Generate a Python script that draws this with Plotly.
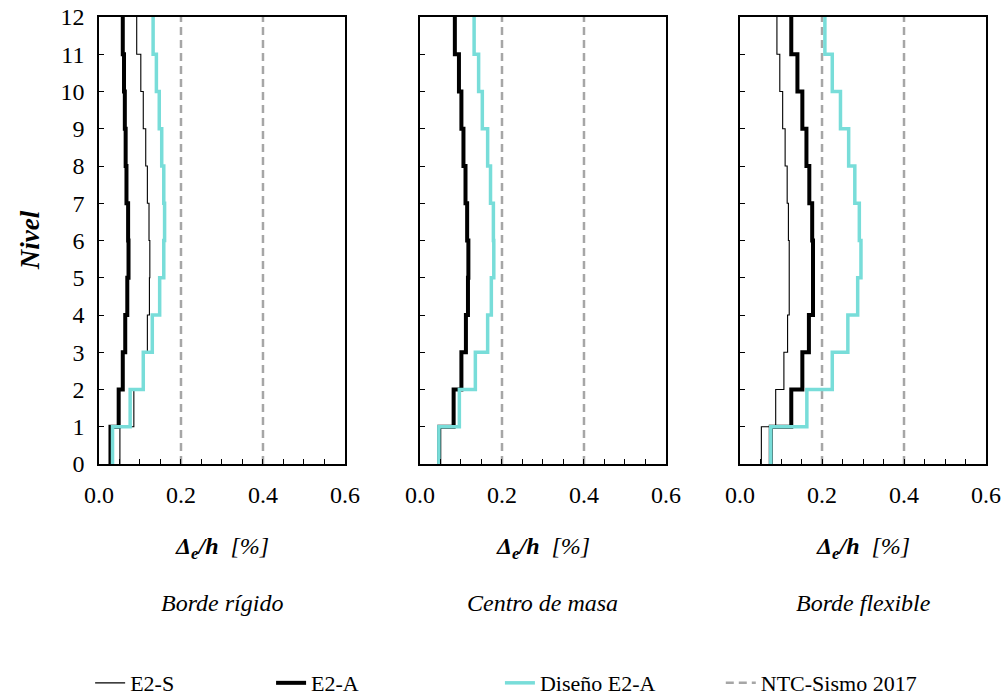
import plotly.graph_objects as go

levels = list(range(0, 13))  # 0..12

# Storey drift values (storeys 1..12), in %
rig_e2s = [0.051, 0.085, 0.107, 0.118, 0.123, 0.124, 0.122, 0.118, 0.114, 0.108, 0.102, 0.092]
rig_e2a = [0.028, 0.048, 0.058, 0.064, 0.069, 0.072, 0.071, 0.067, 0.065, 0.063, 0.061, 0.058]
rig_dis = [0.033, 0.076, 0.108, 0.130, 0.148, 0.158, 0.160, 0.158, 0.153, 0.147, 0.140, 0.132]

cm_e2s = [0.047, 0.082, 0.101, 0.112, 0.117, 0.118, 0.115, 0.111, 0.106, 0.101, 0.095, 0.085]
cm_e2a = [0.047, 0.082, 0.101, 0.112, 0.117, 0.118, 0.115, 0.111, 0.106, 0.101, 0.095, 0.085]
cm_dis = [0.046, 0.096, 0.135, 0.165, 0.174, 0.180, 0.179, 0.172, 0.165, 0.152, 0.143, 0.132]

flex_e2s = [0.052, 0.087, 0.107, 0.116, 0.120, 0.120, 0.118, 0.115, 0.110, 0.104, 0.097, 0.090]
flex_e2a = [0.075, 0.125, 0.152, 0.168, 0.178, 0.178, 0.176, 0.169, 0.162, 0.152, 0.140, 0.125]
flex_dis = [0.075, 0.163, 0.225, 0.263, 0.287, 0.295, 0.291, 0.280, 0.265, 0.245, 0.225, 0.207]

ntc_limits = [0.2, 0.4]

panel_titles = ["Borde rígido", "Centro de masa", "Borde flexible"]
series_names = ["E2-S", "E2-A", "Diseño E2-A", "NTC-Sismo 2017"]
x_ticks = [0.0, 0.2, 0.4, 0.6]
y_ticks = list(range(0, 13))

panels = [
    (rig_e2s, rig_e2a, rig_dis),
    (cm_e2s, cm_e2a, cm_dis),
    (flex_e2s, flex_e2a, flex_dis),
]

FONT = "Liberation Serif, Times New Roman, Times, serif"
CYAN = "#78DDD9"
GRAY = "#A6A6A6"
FS = 24

domains = [[0.0, 0.2773], [0.3619, 0.6392], [0.7227, 1.0]]

fig = go.Figure()

def step_xy(vals):
    return list(vals) + [vals[-1]], levels

legend_ids = ["legend", "legend2", "legend3", "legend4"]

for i, (s, a, d) in enumerate(panels):
    xa = "x" if i == 0 else f"x{i+1}"
    ya = "y" if i == 0 else f"y{i+1}"
    first = (i == 0)
    nx, ny = [], []
    for v in ntc_limits:
        nx += [v, v, None]
        ny += [0, 12, None]
    fig.add_trace(go.Scatter(x=nx, y=ny, mode="lines", xaxis=xa, yaxis=ya,
                             line=dict(color=GRAY, width=2.5, dash="8px,5px"),
                             name=series_names[3], showlegend=first, legend=legend_ids[3]))
    sx, sy = step_xy(s)
    fig.add_trace(go.Scatter(x=sx, y=sy, mode="lines", xaxis=xa, yaxis=ya,
                             line=dict(color="black", width=1.1, shape="vh"),
                             name=series_names[0], showlegend=first, legend=legend_ids[0]))
    ax_, ay_ = step_xy(a)
    fig.add_trace(go.Scatter(x=ax_, y=ay_, mode="lines", xaxis=xa, yaxis=ya,
                             line=dict(color="black", width=4, shape="vh"),
                             name=series_names[1], showlegend=first, legend=legend_ids[1]))
    dx, dy = step_xy(d)
    fig.add_trace(go.Scatter(x=dx, y=dy, mode="lines", xaxis=xa, yaxis=ya,
                             line=dict(color=CYAN, width=3.5, shape="vh"),
                             name=series_names[2], showlegend=first, legend=legend_ids[2]))

axis_common = dict(showline=True, linecolor="black", linewidth=1.5, mirror=True,
                   ticks="inside", ticklen=5, tickcolor="black", tickwidth=1.2,
                   showgrid=False, zeroline=False,
                   tickfont=dict(family=FONT, size=FS, color="black"))

layout = dict(
    width=1003, height=696,
    margin=dict(l=99, r=17, t=17, b=232, autoexpand=False),
    plot_bgcolor="white", paper_bgcolor="white",
    font=dict(family=FONT, size=FS, color="black"),
)

for i in range(3):
    xk = "xaxis" if i == 0 else f"xaxis{i+1}"
    yk = "yaxis" if i == 0 else f"yaxis{i+1}"
    layout[xk] = dict(axis_common, domain=domains[i], range=[0, 0.6],
                      tickvals=x_ticks, ticktext=[f"{v:.1f}" for v in x_ticks],
                      ticklabelstandoff=8,
                      minor=dict(dtick=0.05, tick0=0, ticks="inside", ticklen=5,
                                 tickcolor="black", tickwidth=1.2, showgrid=False),
                      anchor="y" if i == 0 else f"y{i+1}")
    layout[yk] = dict(axis_common, range=[0, 12], tickvals=y_ticks,
                      showticklabels=(i == 0), ticklabelstandoff=8,
                      anchor="x" if i == 0 else f"x{i+1}")

fig.update_layout(**layout)

ann = []
for i in range(3):
    cx = (domains[i][0] + domains[i][1]) / 2
    ann.append(dict(x=cx, y=-0.187, xref="paper", yref="paper", showarrow=False,
                    xanchor="center", yanchor="middle",
                    text="<b><i>Δ<sub>e</sub>/h</i></b>  <i>[%]</i>",
                    font=dict(family=FONT, size=FS)))
    ann.append(dict(x=cx, y=-0.31, xref="paper", yref="paper", showarrow=False,
                    xanchor="center", yanchor="middle",
                    text=f"<i>{panel_titles[i]}</i>",
                    font=dict(family=FONT, size=FS)))
ann.append(dict(x=-0.078, y=0.5, xref="paper", yref="paper", showarrow=False,
                xanchor="center", yanchor="middle", textangle=-90,
                text="<b><i>Nivel</i></b>", font=dict(family=FONT, size=27)))
fig.update_layout(annotations=ann)

leg_x = [-0.01, 0.194, 0.452, 0.701]
for lid, lx in zip(legend_ids, leg_x):
    fig.update_layout(**{lid: dict(x=lx, y=-0.49, xref="paper", yref="paper",
                                   xanchor="left", yanchor="middle",
                                   orientation="h", bgcolor="rgba(0,0,0,0)",
                                   font=dict(family=FONT, size=22))})

fig.write_html("out.html")
